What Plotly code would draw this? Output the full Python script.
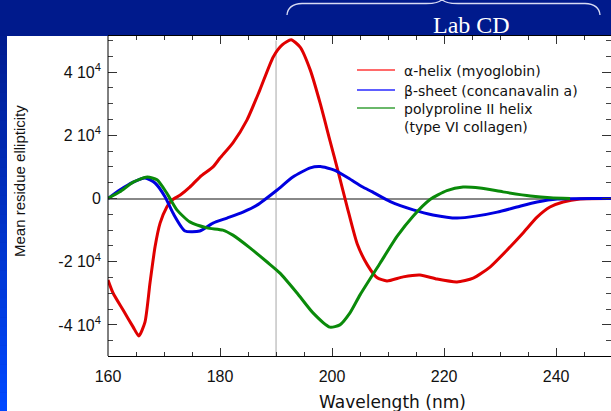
import plotly.graph_objects as go

# ---------------- data ----------------
alpha_x = [160, 160.9, 162.7, 164.5, 165.5, 166.6, 167.5, 168.4, 169.3, 170.5, 171.4, 172.9,
           174.6, 176.4, 178.75, 180, 182.3, 184.8, 187.1, 189.5, 191.1, 192.7, 194.3, 196.1,
           197.9, 199.6, 201.1, 202.7, 204.5, 206.3, 208, 209.8, 212.7, 215.7, 218.75, 222.3,
           225.2, 228.2, 231.25, 234.1, 236.6, 238.9, 241.25, 244.3, 250]
alpha_y = [-25800, -29900, -35300, -40700, -43500, -39100, -26700, -15300, -7800, -2700, -500, 1100,
           3600, 6800, 10000, 12800, 17600, 24800, 34300, 44800, 48600, 50200, 47900, 40700,
           30000, 18500, 8400, -2700, -14400, -21000, -25000, -26100, -24800, -24200, -25500, -26400,
           -25200, -21700, -16300, -10900, -5900, -2700, -1100, -150, 0]

beta_x = [160, 162.1, 164.5, 166.6, 168.4, 170.2, 171.6, 173.75, 176.4, 178.75, 181.25, 184.1,
          186.6, 190.2, 193, 196.1, 197.9, 200.4, 202.9, 205.4, 207.1, 210.4, 214.5, 218,
          222.3, 225.9, 229.5, 233, 236.6, 240.2, 250]
beta_y = [0, 2700, 5200, 6500, 4900, 500, -4600, -10300, -10300, -7800, -6200, -4300,
          -2100, 2700, 6800, 9700, 10100, 9000, 6500, 3700, 2150, -1000, -3600, -5200,
          -6200, -5500, -4300, -2700, -1100, -150, 0]

ppii_x = [160, 162.1, 164.5, 167, 168.75, 170.5, 172.3, 174.6, 177.7, 180.5, 182.3, 185.4,
          188.4, 190.7, 193.75, 196.6, 199.6, 201.4, 203.2, 205, 208.6, 211.6, 214.5, 217.5,
          220.5, 223.4, 226.4, 230.5, 235.4, 239, 242.5, 250]
ppii_y = [0, 2100, 5200, 6800, 5900, 1700, -3600, -7400, -9300, -10000, -11600, -15700,
          -20100, -23600, -29900, -36200, -40700, -40000, -36200, -30500, -20400, -12000, -5500, -300,
          2500, 3600, 3300, 2100, 800, 200, 0]

series_names = ["α-helix (myoglobin)", "β-sheet (concanavalin a)",
                "polyproline II helix<br>(type VI collagen)"]
series_colors = ["#e00000", "#0000e0", "#0a8a0a"]
legend_colors = ["#ff3838", "#2828ff", "#38a038"]

x_tickvals = [160, 180, 200, 220, 240]
y_tickvals = [-40000, -20000, 0, 20000, 40000]
y_ticktext = ["-4 10<sup>4</sup>", "-2 10<sup>4</sup>", "0", "2 10<sup>4</sup>", "4 10<sup>4</sup>"]
ref_wavelength = 190

# ---------------- layout geometry (px) ----------------
W, H = 611, 411
ML, MR, MT, MB = 108, 0, 36, 55
PW = W - ML - MR
PH = H - MT - MB


def px_x(px):
    return (px - ML) / PW


def px_y(py):
    return (H - MB - py) / PH


fig = go.Figure()

for xs, ys, c, nm in zip([alpha_x, beta_x, ppii_x], [alpha_y, beta_y, ppii_y],
                         series_colors, series_names):
    fig.add_trace(go.Scatter(x=xs, y=ys, mode="lines", showlegend=False, name=nm,
                             line=dict(color=c, width=3, shape="spline", smoothing=0.6)))

shapes = []
# left gradient strip
n = 40
top, bot = 36, 411
c0 = (0x00, 0x1c, 0x90)
c1 = (0x00, 0x48, 0xff)
for i in range(n):
    t = i / (n - 1)
    col = "rgb(%d,%d,%d)" % tuple(round(a + (b - a) * t) for a, b in zip(c0, c1))
    y_a = top + (bot - top) * i / n
    y_b = top + (bot - top) * (i + 1) / n + 0.5
    shapes.append(dict(type="rect", xref="paper", yref="paper", layer="below",
                       x0=px_x(0), x1=px_x(7), y0=px_y(y_b), y1=px_y(y_a),
                       line=dict(width=0), fillcolor=col))
# white panel
shapes.append(dict(type="rect", xref="paper", yref="paper", layer="below",
                   x0=px_x(7), x1=px_x(W + 2), y0=px_y(H + 2), y1=px_y(36),
                   line=dict(width=0), fillcolor="white"))
# vertical reference line
shapes.append(dict(type="line", xref="x", yref="y", layer="below",
                   x0=ref_wavelength, x1=ref_wavelength, y0=-49840, y1=50000,
                   line=dict(color="#a8a8a8", width=1)))
# left axis line (right one lies outside the picture)
shapes.append(dict(type="line", xref="paper", yref="paper",
                   x0=0, x1=0, y0=0, y1=1, line=dict(color="black", width=1)))
# brace above "Lab CD"
path = "M {},{} Q {},{} {},{} L {},{} Q {},{} {},{} Q {},{} {},{} L {},{} Q {},{} {},{}".format(
    px_x(287), px_y(15), px_x(288), px_y(4), px_x(302), px_y(3.5),
    px_x(426), px_y(3.5), px_x(440), px_y(3.5), px_x(442), px_y(-1),
    px_x(444), px_y(3.5), px_x(458), px_y(3.5),
    px_x(585), px_y(3.5), px_x(599), px_y(4), px_x(600), px_y(15))
shapes.append(dict(type="path", xref="paper", yref="paper", path=path,
                   line=dict(color="#d8dcf4", width=1.3)))

annotations = [
    dict(text="Lab CD", xref="paper", yref="paper", x=px_x(471), y=px_y(25),
         xanchor="center", yanchor="middle", showarrow=False,
         font=dict(family="Liberation Serif", size=24, color="white")),
    dict(text="Wavelength (nm)", xref="paper", yref="paper", x=px_x(392), y=px_y(402),
         xanchor="center", yanchor="middle", showarrow=False,
         font=dict(family="DejaVu Sans", size=17, color="#111")),
    dict(text="Mean residue ellipticity", xref="paper", yref="paper", x=px_x(19), y=px_y(181),
         xanchor="center", yanchor="middle", showarrow=False, textangle=-90,
         font=dict(family="Liberation Sans", size=15, color="#111")),
]

# manual legend
legend_rows = [70, 90, 108]
for name, c, ry in zip(series_names, legend_colors, legend_rows):
    shapes.append(dict(type="line", xref="paper", yref="paper",
                       x0=px_x(357), x1=px_x(395), y0=px_y(ry), y1=px_y(ry),
                       line=dict(color=c, width=1.3)))
    annotations.append(dict(text=name, xref="paper", yref="paper", x=px_x(402),
                            y=px_y(ry - 9), xanchor="left", yanchor="top", align="left",
                            showarrow=False,
                            font=dict(family="DejaVu Sans", size=14, color="#111")))

fig.update_layout(
    width=W, height=H,
    margin=dict(l=ML, r=MR, t=MT, b=MB, pad=0),
    paper_bgcolor="#001a8c",
    plot_bgcolor="white",
    shapes=shapes,
    annotations=annotations,
    showlegend=False,
    xaxis=dict(range=[160, 249.8], tickvals=x_tickvals, ticks="inside", ticklen=8,
               tickcolor="#333", showline=True, linecolor="black", linewidth=1, mirror="ticks",
               showgrid=False, zeroline=False, ticklabelstandoff=6,
               minor=dict(dtick=5, ticks="inside", ticklen=4, tickcolor="#333", showgrid=False),
               tickfont=dict(family="Liberation Sans", size=16, color="#111")),
    yaxis=dict(range=[-49840, 51420], tickvals=y_tickvals, ticktext=y_ticktext,
               ticks="inside", ticklen=9, tickcolor="#333", showline=False,
               mirror="ticks", showgrid=False, ticklabelstandoff=6,
               zeroline=True, zerolinecolor="#888", zerolinewidth=2,
               minor=dict(dtick=5000, ticks="inside", ticklen=5, tickcolor="#444", showgrid=False),
               tickfont=dict(family="Liberation Sans", size=16, color="#111")),
)

fig.write_html("out.html")
